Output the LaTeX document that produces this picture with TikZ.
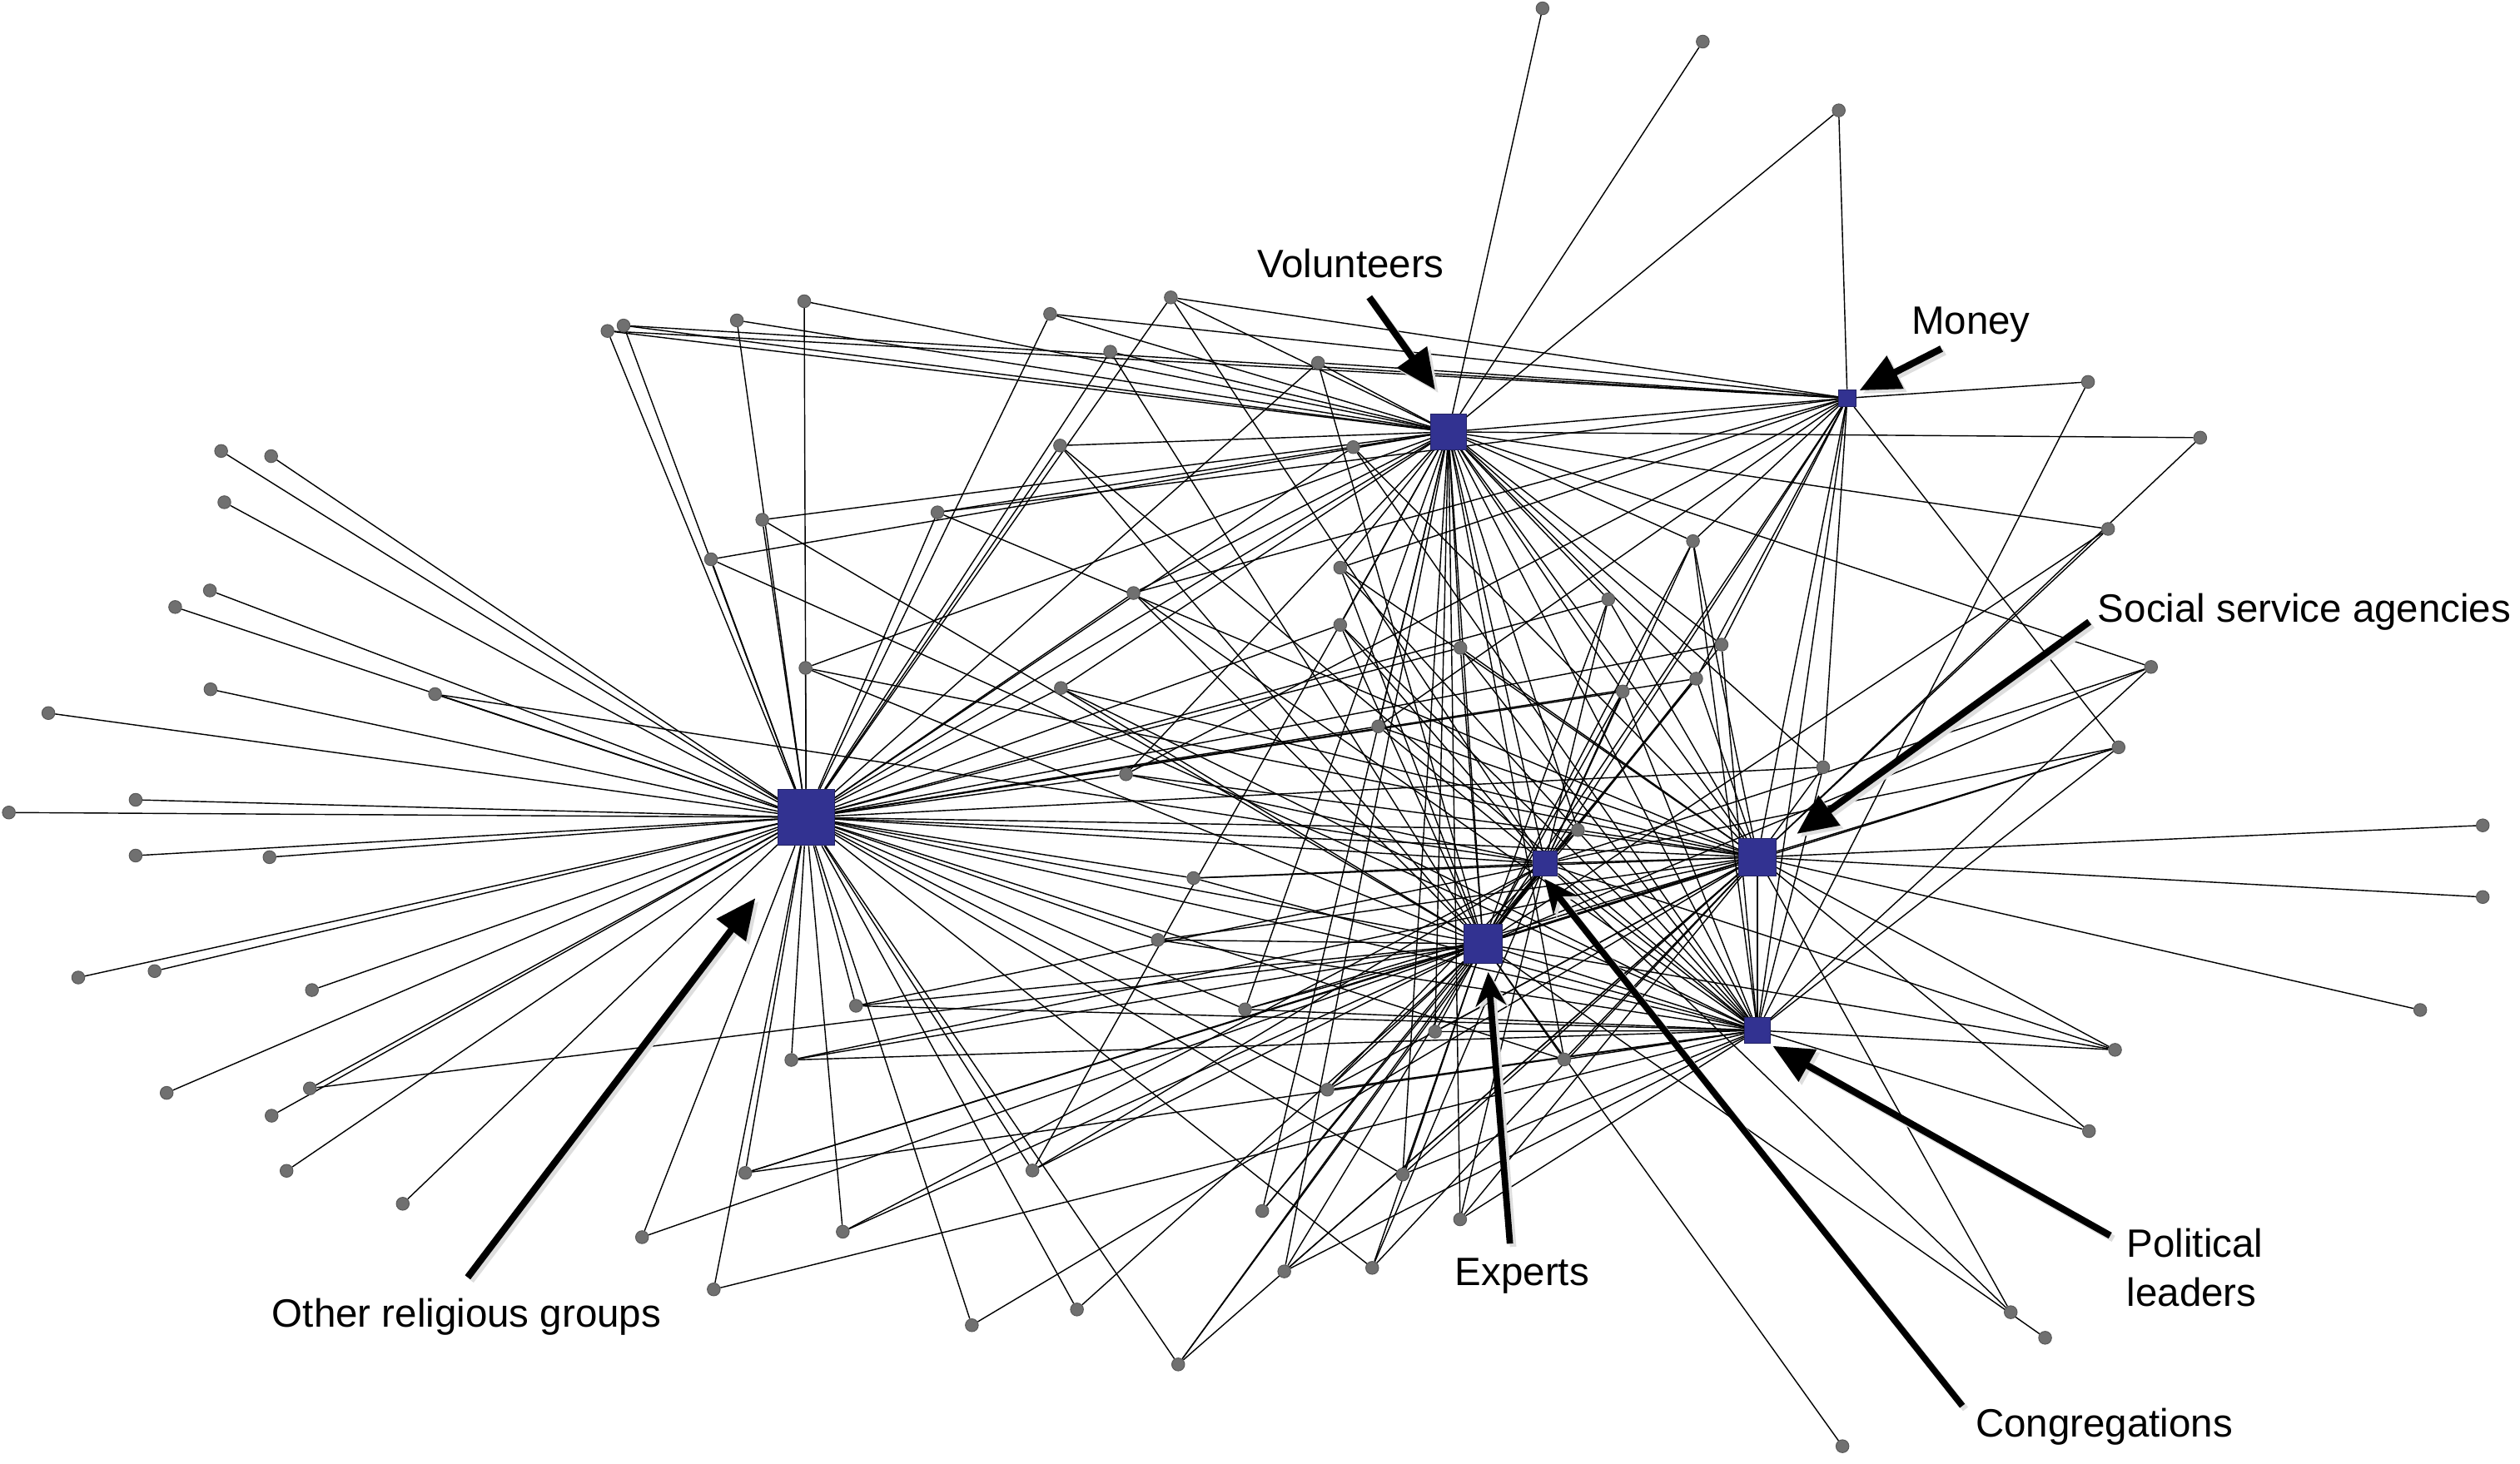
\documentclass[tikz,border=0pt]{standalone}
\usepackage{fontspec}
\setmainfont{Liberation Sans}
\usetikzlibrary{arrows.meta,backgrounds}
\definecolor{hubblue}{RGB}{50,50,145}
\definecolor{dotgray}{RGB}{112,112,112}
\begin{document}
\begin{tikzpicture}[x=0.02cm,y=-0.02cm,
  dot/.style={circle,fill=dotgray,draw=black!65,line width=0.3pt,inner sep=0pt,minimum size=0.16cm},
  hub/.style={rectangle,fill=hubblue,draw=hubblue!70!black,line width=0.3pt,inner sep=0pt,minimum size=#1},
  edge/.style={draw=black,line width=0.42pt},
  lbl/.style={font=\fontsize{14}{17}\selectfont,inner sep=0pt,anchor=base west},
  callout/.style={line width=0.085cm,-{Triangle[length=0.5cm,width=0.44cm]}},
  barbcallout/.style={line width=0.08cm,-{Stealth[length=0.42cm,width=0.38cm,inset=0.14cm]}},
  shadowline/.style={black!13,transform canvas={shift={(0.04cm,-0.04cm)}}}
]
\useasboundingbox (0,0) rectangle (1568,911);

% hubs
\node[hub=0.70cm] (R) at (501.6,508.7) {};
\node[hub=0.44cm] (V) at (901.2,268.8) {};
\node[hub=0.21cm] (M) at (1149.4,247.8) {};
\node[hub=0.31cm] (C) at (961.4,537.4) {};
\node[hub=0.48cm] (E) at (922.8,587.4) {};
\node[hub=0.46cm] (S) at (1093.5,533.5) {};
\node[hub=0.32cm] (P) at (1093.5,641.3) {};

% hub-to-hub ties
\begin{pgfonlayer}{background}
\foreach \a/\b in {R/V,R/E,R/C,R/S,R/P,V/M,V/E,V/C,V/S,V/P,M/E,M/C,M/S,M/P,E/C,E/S,E/P,C/S,C/P,S/P}
  {\draw[edge] (\a) -- (\b);}
\end{pgfonlayer}

% peripheral nodes and their ties
\foreach \n/\px/\py/\hs in {
  1/137.6/280.7/{R}, 2/168.7/283.9/{R}, 3/139.6/312.6/{R}, 4/130.6/367.5/{R},
  5/109/377.8/{R}, 6/131/429/{R}, 7/30.1/443.8/{R}, 8/5.5/505.7/{R},
  9/84.4/497.8/{R}, 10/84.4/532.5/{R}, 11/167.7/533.5/{R}, 12/48.7/608.4/{R},
  13/96.2/604.4/{R}, 14/194.1/616.2/{R}, 15/103.7/680.2/{R}, 16/192.8/677.4/{R,E},
  17/169/694.4/{R}, 18/178.3/728.7/{R}, 19/250.6/749.2/{R}, 20/270.7/432/{R,C},
  21/378/206/{R,V,M}, 22/388/202.6/{R,V,M}, 23/458.5/199.4/{R,V}, 24/500.4/187.5/{R,V},
  25/653.4/195.4/{R,V,M}, 26/728.5/185.1/{R,V,M,C}, 27/690.8/218.9/{R,V,E},
  28/820.1/225.8/{V,M,E,R}, 29/842/278.3/{V,R,S,P}, 30/659.6/277.3/{V,R,E,P},
  31/583.3/318.9/{R,V,M,S}, 32/474.3/323.5/{R,V,E}, 33/442.4/348.1/{R,V,P},
  34/501.2/415.7/{R,V,E,S}, 35/705.3/369.1/{R,V,M,E,P}, 36/660.1/428.2/{V,E,S,P,R},
  37/700.6/481.9/{R,V,C,S,M}, 38/742.6/546.5/{R,C,S,P}, 39/720.4/585/{R,E,S,P},
  40/857.6/452.1/{R,V,C,S,M}, 41/833.9/353.3/{V,E,S,P,M}, 42/833.9/388.9/{V,E,C,P,R},
  43/908.7/403.2/{V,R,E,S,P}, 44/1000.7/373/{V,E,C,S,R}, 45/1009.7/430.4/{V,R,E,C,P},
  46/1053.4/336.8/{V,M,E,C,S,P}, 47/1071.2/401.2/{V,M,E,P,R}, 48/1055.4/422.4/{V,M,R,E,C,S},
  49/1134.4/477.5/{V,M,S,P,R}, 50/981.8/516.6/{V,R,C,S,E},
  51/959.8/5.2/{V}, 52/1059.5/25.9/{V}, 53/1144.1/68.7/{V,M},
  54/1299.2/237.7/{M,P}, 55/1369/272.4/{V,S}, 56/1311.7/329.2/{V,S,E},
  57/1338.4/415.1/{V,E,P,C}, 58/1318.2/465.1/{M,S,P,E,C},
  59/1544.8/513.7/{S}, 60/1544.8/558.3/{S}, 61/1505.9/628.6/{S},
  62/1316/653.4/{S,P,C,E}, 63/1299.8/704/{S,P}, 64/1251.1/816.7/{C,S},
  65/1272.5/832.6/{E}, 66/1146.4/900.1/{E},
  67/733.1/849.2/{E,S,R,C}, 68/604.7/824.8/{R,S}, 69/670.1/815/{R,E},
  70/444.1/802.5/{R,P}, 71/399.5/770/{R,E}, 72/524.4/766.6/{R,E,C},
  73/463.7/730/{R,E,S,P}, 74/642.4/728.5/{R,E,C,V}, 75/785.4/753.7/{E,V,C},
  76/799.1/791.3/{V,E,S,P}, 77/853.8/789.1/{R,E,C,S}, 78/908.5/758.9/{V,C,S,P},
  79/872.8/731/{R,V,E,S,P}, 80/825.9/678.2/{R,E,C,S,P}, 81/892.9/642.1/{V,E,P,S},
  82/973.3/659.4/{V,R,E,P,S}, 83/774.7/628.2/{R,V,E,S,P}, 84/532.6/626/{R,E,P,C},
  85/492.4/659.7/{R,E,S,P}}
{
  \node[dot] (d\n) at (\px,\py) {};
  \begin{pgfonlayer}{background}
    \foreach \h in \hs {\draw[edge] (d\n) -- (\h);}
  \end{pgfonlayer}
}

% labels
\node[lbl] (lvol) at (782,172.7) {Volunteers};
\node[lbl] (lmon) at (1189,207.8) {Money};
\node[lbl] (lsoc) at (1305,387.4) {Social service agencies};
\node[lbl] (lpol) at (1323,782.5) {Political};
\node[lbl] (lpol2) at (1323,812.9) {leaders};
\node[lbl] (lexp) at (905,800.3) {Experts};
\node[lbl] (lcon) at (1229,894.4) {Congregations};
\node[lbl] (loth) at (169,826) {Other religious groups};

% callout arrow ends
\coordinate (avs) at (852,185);   \coordinate (avt) at (893,242.6);
\coordinate (ams) at (1208,217);  \coordinate (amt) at (1157,243);
\coordinate (ass) at (1300,387);  \coordinate (ast) at (1118,519);
\coordinate (aps) at (1313,769);  \coordinate (apt) at (1103,651);
\coordinate (acs) at (1221,875);  \coordinate (act) at (961,547);
\coordinate (aes) at (939.5,774); \coordinate (aet) at (926,605);
\coordinate (aos) at (291,795);   \coordinate (aot) at (470,559);

% shadows
\foreach \s/\t in {avs/avt,ams/amt,ass/ast,aps/apt,aos/aot}
  {\draw[callout,shadowline] (\s) -- (\t);}
\foreach \s/\t in {acs/act,aes/aet}
  {\draw[barbcallout,shadowline] (\s) -- (\t);}
% arrows
\foreach \s/\t in {avs/avt,ams/amt,ass/ast,aps/apt,aos/aot}
  {\draw[callout] (\s) -- (\t);}
\foreach \s/\t in {acs/act,aes/aet}
  {\draw[barbcallout] (\s) -- (\t);}
\end{tikzpicture}
\end{document}
